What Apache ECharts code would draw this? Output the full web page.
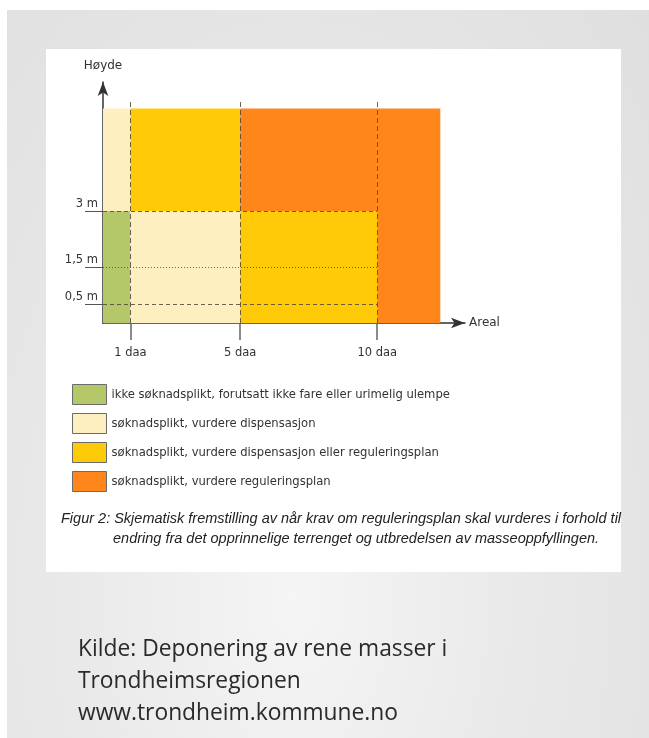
<!DOCTYPE html>
<html>
<head>
<meta charset="utf-8">
<script src="https://cdn.jsdelivr.net/npm/echarts@6/dist/echarts.min.js"></script>
<style>
  html, body { margin: 0; padding: 0; background: #ffffff; }
  #bg { position: absolute; left: 7px; top: 10px; width: 642px; height: 728px;
        background: radial-gradient(ellipse at 45% 80%, #f5f5f5 0%, #e9e9e9 45%, #dfdfdf 100%); }
  #card { position: absolute; left: 46px; top: 49px; width: 575px; height: 523px; background: #ffffff; }
  #chart { position: absolute; left: 0; top: 0; width: 649px; height: 738px; }
</style>
</head>
<body>
<div id="bg"></div>
<div id="card"></div>
<div id="chart"></div>
<script>
// ---- data ----
const categories = [
  'ikke søknadsplikt, forutsatt ikke fare eller urimelig ulempe',
  'søknadsplikt, vurdere dispensasjon',
  'søknadsplikt, vurdere dispensasjon eller reguleringsplan',
  'søknadsplikt, vurdere reguleringsplan'
];
const colors = ['#b4c86a', '#fdefc0', '#ffcb08', '#ff861b'];
// cells: [areaFrom (daa), areaTo (daa), heightFrom (m), heightTo (m), categoryIndex]
const cells = [
  [0, 1, 0, 3, 0],
  [0, 1, 3, 5.75, 1],
  [1, 5, 0, 3, 1],
  [1, 5, 3, 5.75, 2],
  [5, 10, 0, 3, 2],
  [5, 10, 3, 5.75, 3],
  [10, 12.3, 0, 5.75, 3]
];
const areaTicks = [1, 5, 10];
const areaTickLabels = ['1 daa', '5 daa', '10 daa'];
const heightTicks = [0.5, 1.5, 3];
const heightTickLabels = ['0,5 m', '1,5 m', '3 m'];
const heightLineTypes = ['dashed', 'dotted', 'dashed'];
const guideTop = 5.95;     // top of the vertical guide lines (m)
const guideRight = 10;     // right end of the horizontal guide lines (daa)
const axisMaxX = 13.2;
const axisMaxY = 6.46;
const caption = [
  'Figur 2: Skjematisk fremstilling av når krav om reguleringsplan skal vurderes i forhold til',
  'endring fra det opprinnelige terrenget og utbredelsen av masseoppfyllingen.'
];
const source = [
  'Kilde: Deponering av rene masser i',
  'Trondheimsregionen',
  'www.trondheim.kommune.no'
];

const chart = echarts.init(document.getElementById('chart'), null, { renderer: 'canvas' });
const chartFont = 'DejaVu Sans';

function renderCell(params, api) {
  const p0 = api.coord([api.value(0), api.value(3)]);
  const p1 = api.coord([api.value(1), api.value(2)]);
  return {
    type: 'rect',
    shape: { x: p0[0], y: p0[1], width: p1[0] - p0[0], height: p1[1] - p0[1] },
    style: { fill: api.visual('color') }
  };
}

const series = categories.map((name, ci) => ({
  name: name,
  type: 'custom',
  renderItem: renderCell,
  itemStyle: { color: colors[ci], borderColor: '#6b6b6b', borderWidth: 1 },
  encode: { x: [0, 1], y: [2, 3] },
  data: cells.filter(c => c[4] === ci),
  z: 1,
  silent: true
}));

// guide lines series
const guideLines = [];
areaTicks.forEach(a => {
  guideLines.push({
    coords: [[a, 0], [a, guideTop]],
    lineStyle: { type: [5, 3], color: '#54483a', width: 1, opacity: 0.85 }
  });
});
heightTicks.forEach((h, i) => {
  guideLines.push({
    coords: [[0, h], [guideRight, h]],
    lineStyle: { type: heightLineTypes[i] === 'dotted' ? [1, 2] : [4, 3], color: '#54483a', width: 1, opacity: 0.85 }
  });
});
series.push({
  type: 'lines',
  coordinateSystem: 'cartesian2d',
  polyline: false,
  silent: true,
  z: 3,
  data: guideLines
});

const graphics = [];
caption.forEach((t, i) => {
  graphics.push({
    type: 'text',
    left: i === 0 ? 61 : 113,
    top: 511 + i * 20,
    style: { text: t, fill: '#222', font: 'italic 14.5px "Liberation Sans"' }
  });
});
source.forEach((t, i) => {
  graphics.push({
    type: 'text',
    left: 78,
    top: 638 + i * 32,
    style: { text: t, fill: '#2a2a2a', font: '22.8px "Open Sans"' }
  });
});

chart.setOption({
  animation: false,
  backgroundColor: 'transparent',
  textStyle: { fontFamily: chartFont },
  grid: { left: 103, top: 82, width: 362, height: 241, containLabel: false },
  xAxis: {
    type: 'value', min: 0, max: axisMaxX,
    name: 'Areal', nameLocation: 'end', nameGap: 4,
    nameTextStyle: { color: '#333', fontSize: 12, fontFamily: chartFont, verticalAlign: 'middle', padding: [0, 0, 5, 0] },
    axisLine: { show: true, symbol: ['none', 'arrow'], symbolSize: [8, 14], symbolOffset: [0, 0],
                lineStyle: { color: '#333', width: 1.5 } },
    axisTick: { show: true, customValues: areaTicks, length: 17, lineStyle: { color: '#666', width: 1.5 } },
    axisLabel: { show: true, customValues: areaTicks, margin: 24, color: '#333', fontSize: 11.5,
                 formatter: v => areaTickLabels[areaTicks.indexOf(v)] || '' },
    splitLine: { show: false }
  },
  yAxis: {
    type: 'value', min: 0, max: axisMaxY,
    name: 'Høyde', nameLocation: 'end', nameGap: 10,
    nameTextStyle: { color: '#333', fontSize: 12, fontFamily: chartFont, align: 'center' },
    axisLine: { show: true, symbol: ['none', 'arrow'], symbolSize: [8, 14],
                lineStyle: { color: '#333', width: 1.5 } },
    axisTick: { show: true, customValues: heightTicks, length: 18, lineStyle: { color: '#555', width: 1 } },
    axisLabel: { show: true, customValues: heightTicks, margin: 5, color: '#333', fontSize: 11.5,
                 verticalAlign: 'bottom', padding: [0, 0, 1, 0],
                 formatter: v => heightTickLabels[heightTicks.indexOf(v)] || '' },
    splitLine: { show: false }
  },
  legend: {
    orient: 'vertical', left: 67, top: 379,
    itemWidth: 34, itemHeight: 20, itemGap: 8,
    selectedMode: false,
    icon: 'rect',
    data: categories,
    itemStyle: { borderColor: '#6b6b6b', borderWidth: 1 },
    textStyle: { color: '#333', fontSize: 11.6, fontFamily: chartFont, padding: [0, 0, 0, 0] }
  },
  graphic: graphics,
  series: series
});
</script>
</body>
</html>
